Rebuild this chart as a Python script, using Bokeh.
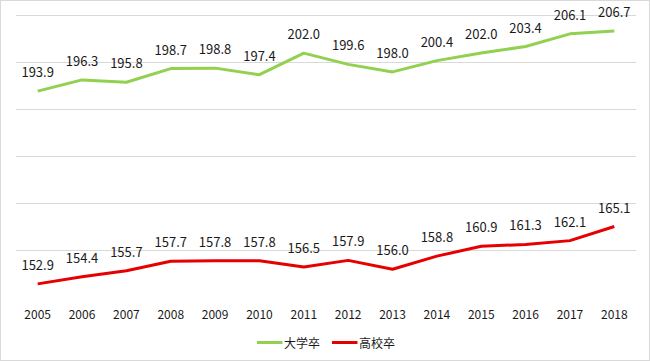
from bokeh.plotting import figure
from bokeh.layouts import column
from bokeh.core.properties import value
from bokeh.models import ColumnDataSource, LabelSet, Legend, LegendItem, Range1d, FactorRange, FixedTicker
from bokeh.embed import file_html
from bokeh.resources import INLINE

years = ["2005", "2006", "2007", "2008", "2009", "2010", "2011", "2012",
         "2013", "2014", "2015", "2016", "2017", "2018"]
univ = [193.9, 196.3, 195.8, 198.7, 198.8, 197.4, 202.0, 199.6,
        198.0, 200.4, 202.0, 203.4, 206.1, 206.7]
high = [152.9, 154.4, 155.7, 157.7, 157.8, 157.8, 156.5, 157.9,
        156.0, 158.8, 160.9, 161.3, 162.1, 165.1]
series_names = ["大学卒", "高校卒"]
grid_values = [150, 160, 170, 180, 190, 200, 210]
colors = ["#92D050", "#E60000"]

FONT = "Noto Sans CJK JP"

src = ColumnDataSource(dict(
    x=years, u=univ, h=high,
    ul=[f"{v:.1f}" for v in univ], hl=[f"{v:.1f}" for v in high],
))

# frame spans 296px; grid band 150..210 covers the lower 282px, extra headroom above for labels
y_end = 150 + (210 - 150) * 296 / 282

p = figure(width=648, height=323, x_range=FactorRange(*years), y_range=Range1d(150, y_end),
           output_backend="svg", toolbar_location=None,
           min_border_left=14, min_border_right=13, min_border_top=0, min_border_bottom=27)
p.outline_line_color = None

p.line("x", "u", source=src, line_color=colors[0], line_width=3)
p.line("x", "h", source=src, line_color=colors[1], line_width=3)

for col, lab in (("u", "ul"), ("h", "hl")):
    p.add_layout(LabelSet(x="x", y=col, text=lab, source=src, text_align="center",
                          text_baseline="alphabetic", y_offset=14,
                          text_font=value(FONT), text_font_size="13px", text_color="#1a1a1a"))

p.yaxis.visible = False
p.ygrid.ticker = FixedTicker(ticks=grid_values)
p.ygrid.grid_line_color = "#d9d9d9"
p.xgrid.grid_line_color = None
p.xaxis.axis_line_color = None
p.xaxis.major_tick_line_color = None
p.xaxis.minor_tick_line_color = None
p.xaxis.major_label_text_font = FONT
p.xaxis.major_label_text_font_size = "12px"
p.xaxis.major_label_text_color = "#1a1a1a"
p.xaxis.major_label_standoff = 6

# legend strip
lg = figure(width=648, height=36, x_range=Range1d(0, 1), y_range=Range1d(0, 1),
            output_backend="svg", toolbar_location=None,
            min_border_left=5, min_border_right=0, min_border_top=0, min_border_bottom=0)
lg.outline_line_color = None
lg.axis.visible = False
lg.grid.grid_line_color = None
dummy = ColumnDataSource(dict(x=[5, 6], y=[5, 6]))
l1 = lg.line("x", "y", source=dummy, line_color=colors[0], line_width=3)
l2 = lg.line("x", "y", source=dummy, line_color=colors[1], line_width=3)
legend = Legend(items=[LegendItem(label=series_names[0], renderers=[l1]),
                       LegendItem(label=series_names[1], renderers=[l2])],
                orientation="horizontal", location="center",
                label_text_font=FONT, label_text_font_size="12px",
                label_text_color="#1a1a1a", glyph_width=26, label_standoff=2,
                spacing=11, padding=0, margin=0, border_line_color=None,
                background_fill_alpha=0)
lg.add_layout(legend, "center")

layout = column(p, lg, spacing=0)
layout.styles = {"border": "1px solid #d9d9d9"}
open("out.html", "w").write(file_html(layout, INLINE))
